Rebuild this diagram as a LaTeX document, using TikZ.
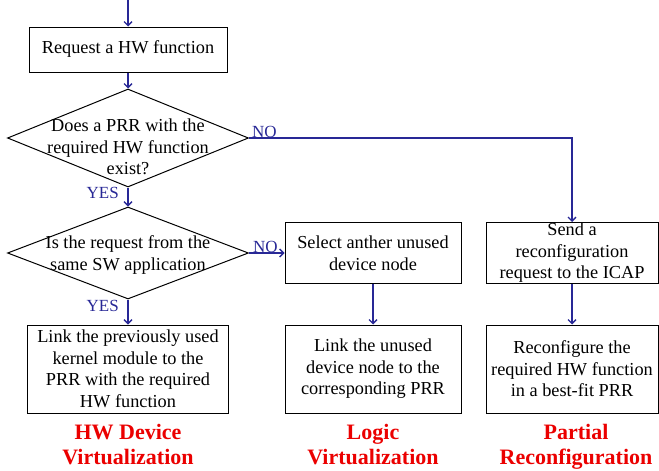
\documentclass[tikz,border=0pt]{standalone}
\usepackage{fontspec}
\setmainfont{Liberation Serif}
\usetikzlibrary{shapes.geometric,arrows.meta}
\definecolor{flow}{RGB}{40,40,150}
\definecolor{tagred}{RGB}{235,0,0}
\newcommand\myBody{\fontsize{18.3}{21.5}\selectfont}
\newcommand\myTag{\fontsize{22}{25}\selectfont\bfseries}
\newcommand\myLbl{\fontsize{17}{19}\selectfont}
\begin{document}
\begin{tikzpicture}[x=1pt,y=-1pt,
  box/.style={draw, line width=1pt, inner sep=0pt, align=center, font=\myBody},
  dia/.style={draw, diamond, inner sep=0pt, line width=1pt},
  txt/.style={inner sep=0pt, align=center, font=\myBody},
  tag/.style={inner sep=0pt, align=center, anchor=north, text=tagred, font=\myTag},
  lbl/.style={inner sep=0pt, text=flow, font=\myLbl},
  arr/.style={draw=flow, line width=1.3pt, -{Straight Barb[length=4pt,width=8pt]}}]
\useasboundingbox (0,0) rectangle (659,471);
\coordinate (start) at (128,0);
\node[box, minimum width=198, minimum height=45] (b1) at (128,49.5) {Request a HW function};
\node[dia, minimum width=241, minimum height=98] (d1) at (128,138) {};
\node[txt] (d1t) at (128,147) {Does a PRR with the\\required HW function\\exist?};
\node[dia, minimum width=241, minimum height=92] (d2) at (128,253) {};
\node[txt] (d2t) at (128,255) {Is the request from the\\same SW application};
\node[box, minimum width=176, minimum height=61] (b2) at (373,253) {Select anther unused\\device node};
\node[box, minimum width=172, minimum height=61] (b3) at (572,253) {Send a\\reconfiguration\\request to the ICAP};
\node[box, minimum width=201, minimum height=88] (b4) at (128,369) {Link the previously used\\kernel module to the\\PRR with the required\\HW function};
\node[box, minimum width=176, minimum height=88] (b5) at (373,369) {Link the unused\\device node to the\\corresponding PRR};
\node[box, minimum width=172, minimum height=88] (b6) at (572,369) {Reconfigure the\\required HW function\\in a best-fit PRR};
\node[tag] (t1) at (128,424) {HW Device\\Virtualization};
\node[tag] (t2) at (373,424) {Logic\\Virtualization};
\node[tag] (t3) at (576,424) {Partial\\Reconfiguration};
\node[lbl, anchor=base west] (no1) at (252,137) {NO};
\node[lbl, anchor=base west] (no2) at (253,252) {NO};
\node[lbl, anchor=base east] (yes1) at (119,198) {YES};
\node[lbl, anchor=base east] (yes2) at (119,311) {YES};
\draw[arr] (start) -- (b1);
\draw[arr] (b1) -- (d1);
\draw[arr] (d1) -- (d2);
\draw[arr] (d2) -- (b4);
\draw[arr] (d2) -- (b2);
\draw[arr] (d1.east) -| (b3.north);
\draw[arr] (b2) -- (b5);
\draw[arr] (b3) -- (b6);
\end{tikzpicture}
\end{document}
